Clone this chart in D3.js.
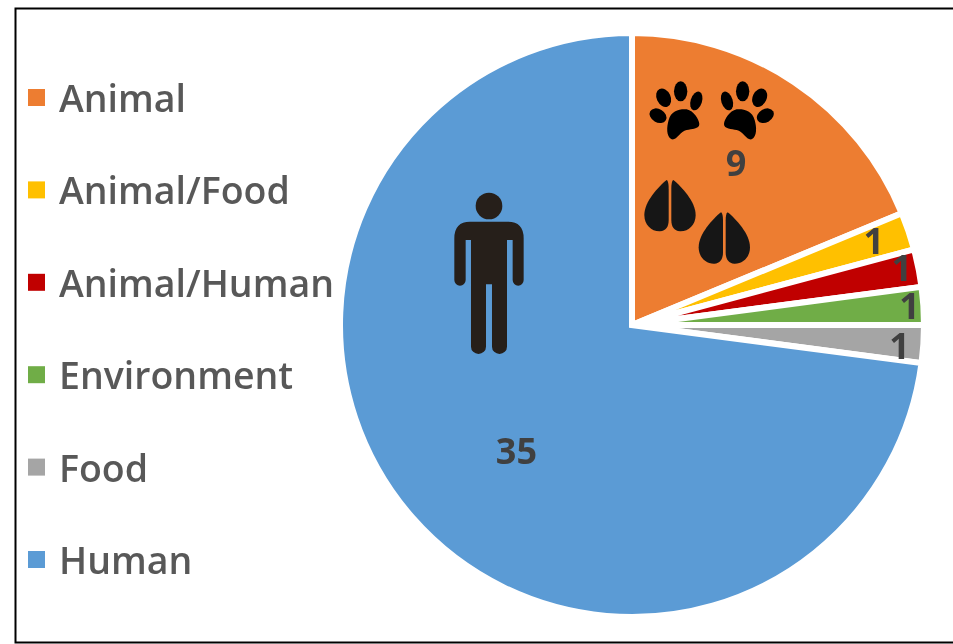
<!DOCTYPE html>
<html>
<head>
<meta charset="utf-8">
<script src="https://cdn.jsdelivr.net/npm/d3@7.9.0/dist/d3.min.js"></script>
<style>
    html, body { margin: 0; padding: 0; background: #fff; overflow: hidden; }
    text { font-family: "Open Sans", sans-serif; }
</style>
</head>
<body>
<svg id="chart" width="953" height="644"></svg>
<script>
const categories = ["Animal", "Animal/Food", "Animal/Human", "Environment", "Food", "Human"];
const counts = [9, 1, 1, 1, 1, 35];
const colors = ["#ed7d31", "#ffc000", "#c00000", "#70ad47", "#a5a5a5", "#5b9bd5"];

// manual nudges from the slice centroid, the source labels were dragged by hand
const labelNudge = [[-2, -3], [-13, 2], [6, -4], [9, -1], [-1, 3], [28, 0]];

const cx = 632, cy = 325, radius = 292;

const svg = d3.select("#chart");

const defs = svg.append("defs");
defs.append("filter").attr("id", "soft")
    .append("feGaussianBlur").attr("stdDeviation", 0.7);

// image border
svg.append("rect")
    .attr("x", 15.5).attr("y", 8.5)
    .attr("width", 950).attr("height", 634)
    .attr("fill", "#fff")
    .attr("stroke", "#000")
    .attr("stroke-width", 2);

// === Pie ===
const pie = d3.pie().sort(null).value(d => d);
const arc = d3.arc().innerRadius(0).outerRadius(radius);
const slices = pie(counts);

const pieG = svg.append("g").attr("transform", `translate(${cx},${cy})`);

pieG.selectAll("path")
    .data(slices)
    .join("path")
    .attr("d", arc)
    .attr("fill", (d, i) => colors[i])
    .attr("stroke", "#fff")
    .attr("stroke-width", 6)
    .attr("stroke-linejoin", "miter");

// === Legend ===
const legendY = d3.scalePoint().domain(categories).range([98, 560]);

const legend = svg.selectAll(".legend")
    .data(categories)
    .join("g")
    .attr("class", "legend")
    .attr("transform", d => `translate(0, ${legendY(d)})`);

legend.append("rect")
    .attr("x", 28).attr("y", -9)
    .attr("width", 17).attr("height", 17)
    .attr("fill", (d, i) => colors[i]);

legend.append("text")
    .attr("x", 59).attr("y", 14)
    .attr("fill", "#595959")
    .attr("filter", "url(#soft)")
    .style("font-size", "37.5px")
    .style("font-weight", 600)
    .text(d => d);

// === Icons, traced by hand in zoomed-in coordinates ===
const paw = svg.append("g").attr("id", "paw-icons");
const toes = [[84, 167, 27, 20, 30], [101, 113, 21, 29, -25], [152, 94, 20, 30, 0], [199, 123, 17, 29, 18]];
const padPath = "M125 238C108 230 110 200 116 180C123 152 150 146 170 148C192 153 207 178 208 192C208 207 185 207 170 210C150 214 140 242 125 238Z";

function drawPaw(g) {
    g.selectAll("ellipse").data(toes).join("ellipse")
        .attr("transform", d => `translate(${d[0]},${d[1]}) rotate(${d[4]})`)
        .attr("rx", d => d[2]).attr("ry", d => d[3]);
    g.append("path").attr("d", padPath);
}
paw.append("g").attr("transform", "translate(630,60) scale(0.3333)").call(drawPaw);
paw.append("g").attr("transform", "translate(630,60) scale(0.3333) translate(490,0) scale(-1,1)").call(drawPaw);

const hoofHalf = "M110 360C85 380 43 425 43 465C43 495 65 515 90 514C108 513 116 500 116 480L116 385C116 372 114 362 110 360Z";
function drawHoof(g) {
    g.append("path").attr("d", hoofHalf);
    g.append("path").attr("d", hoofHalf).attr("transform", "translate(240,0) scale(-1,1)");
}
svg.append("g").attr("fill", "#161616").attr("transform", "translate(630,60) scale(0.3333)").call(drawHoof);
svg.append("g").attr("fill", "#161616").attr("transform", "translate(630,60) scale(0.3333) translate(163,97)").call(drawHoof);

const person = svg.append("g").attr("fill", "#261f1a").attr("transform", "translate(430,180) scale(0.3333)");
person.append("circle").attr("cx", 177).attr("cy", 78).attr("r", 40);
person.append("path").attr("d", "M120 125L234 125Q281 125 281 175L281 300A16.5 17 0 0 1 248 300L248 180L231 180L231 500A22.5 22 0 0 1 186 500L186 313L168 313L168 500A22.5 22 0 0 1 123 500L123 180L107 180L107 300A17 17 0 0 1 73 300L73 175Q73 125 120 125Z");

// === Value labels ===
const labelArc = d3.arc().innerRadius(191).outerRadius(191);
const endArc = d3.arc().innerRadius(269).outerRadius(269);

pieG.selectAll(".value")
    .data(slices)
    .join("text")
    .attr("class", "value")
    .attr("transform", (d, i) => {
        const [x, y] = (d.value === 1 ? endArc : labelArc).centroid(d);
        return `translate(${x + labelNudge[i][0]},${y + labelNudge[i][1]})`;
    })
    .attr("text-anchor", "middle")
    .attr("dy", "0.36em")
    .attr("fill", "#404040")
    .attr("filter", "url(#soft)")
    .style("font-size", "36px")
    .style("font-weight", 700)
    .text(d => d.value);
</script>
</body>
</html>
